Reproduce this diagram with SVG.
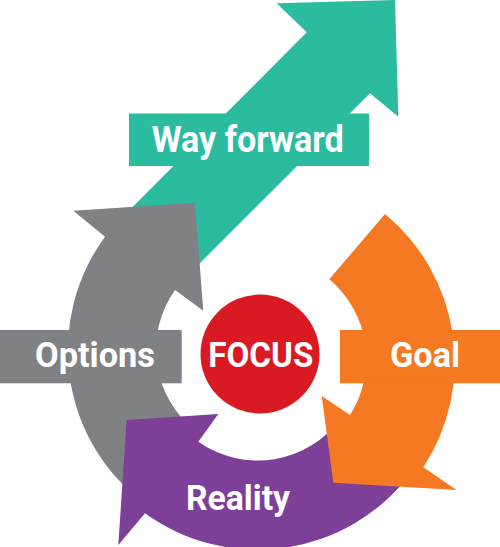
<svg xmlns="http://www.w3.org/2000/svg" width="500" height="547" viewBox="0 0 500 547">
  <style>
    .lbl { font-family: Roboto, "Liberation Sans", sans-serif; font-weight: bold; fill: #ffffff; }
    .teal { fill: #2bbca0; }
    .gray { fill: #808184; }
    .purple { fill: #7e3f98; }
    .orange { fill: #f47922; }
    .red { fill: #da1a22; }
  </style>
  <rect width="500" height="547" fill="#ffffff"/>

  <g id="way-forward">
    <path class="teal" d="M127.25,212.25 L306.7,32.3 L276.7,3.3 L395,0 L398.3,116.7 L370,93.3 L189,274 Z"/>
    <rect class="teal" x="129" y="113.5" width="240" height="52.5"/>
    <text class="lbl" x="151.7" y="151.7" font-size="37" textLength="192" lengthAdjust="spacingAndGlyphs">Way forward</text>
  </g>

  <g id="options">
    <path class="gray" d="M195.8,430.9 L138.6,499.1 A192,192 0 0 1 105,236.7 L73.3,210.7 L195,202.7 L203.3,310.7 L175,290 A103,103 0 0 0 195.8,430.9 Z"/>
    <rect class="gray" x="0" y="330" width="181.7" height="53.3"/>
    <text class="lbl" x="35" y="366.7" font-size="35" textLength="120" lengthAdjust="spacingAndGlyphs">Options</text>
  </g>

  <g id="reality">
    <path class="purple" d="M409.1,475.4 A192,192 0 0 1 145,513.3 L118.3,545 L126.7,420 L218.3,414 L198.3,441.7 A103,103 0 0 0 340.9,418.2 Z"/>
    <text class="lbl" x="186" y="509.5" font-size="35" textLength="104" lengthAdjust="spacingAndGlyphs">Reality</text>
  </g>

  <g id="goal">
    <path class="orange" d="M385,214 A192,192 0 0 1 423.3,467.3 L456.7,490 L333.3,482.7 L321.7,396 L350,415 A104,104 0 0 0 329.3,279.3 Z"/>
    <rect class="orange" x="340" y="330" width="160" height="53.3"/>
    <text class="lbl" x="390" y="366.7" font-size="35" textLength="70" lengthAdjust="spacingAndGlyphs">Goal</text>
  </g>

  <g id="focus">
    <circle class="red" cx="260" cy="354" r="59.5"/>
    <text class="lbl" x="208.3" y="366.7" font-size="35" textLength="105" lengthAdjust="spacingAndGlyphs">FOCUS</text>
  </g>

  <g id="connectors"/>
</svg>
